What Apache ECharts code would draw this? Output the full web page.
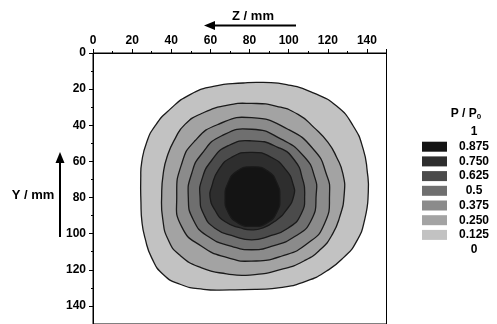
<!DOCTYPE html>
<html>
<head>
<meta charset="utf-8">
<script src="https://cdn.jsdelivr.net/npm/echarts@6/dist/echarts.min.js"></script>
<style>
  html, body { margin: 0; padding: 0; background: #fff; }
  #chart { width: 497px; height: 324px; }
</style>
</head>
<body>
<div id="chart"></div>
<script>
// Contour lines of P/P0, each as a closed loop of [Z mm, Y mm] points
const ring0125 = [[76.8,16.6],[61.5,18.5],[49.6,23.0],[39.3,31.2],[31.7,40.4],[27.4,49.5],[24.9,60.4],[24.4,69.6],[24.5,82.4],[25.0,93.3],[26.6,102.5],[30.0,113.4],[35.9,122.6],[44.5,128.0],[56.4,130.8],[70.0,131.1],[83.6,130.8],[95.6,129.9],[109.2,126.2],[119.4,120.7],[127.9,113.4],[134.7,104.3],[139.0,91.5],[140.7,76.9],[140.2,65.9],[138.1,53.2],[133.0,40.4],[124.5,29.4],[112.6,22.1],[99.0,17.5],[87.0,16.3]];
const ring0250 = [[81.1,27.9],[68.3,29.0],[55.5,33.5],[47.0,39.5],[41.9,47.5],[38.0,57.0],[35.9,66.8],[35.1,78.7],[35.6,91.5],[38.5,103.5],[44.5,112.0],[55.5,118.9],[68.3,122.2],[80.2,122.9],[96.2,119.8],[108.0,115.0],[116.5,108.5],[122.0,101.0],[126.0,91.0],[128.4,78.0],[127.7,66.8],[124.5,57.7],[120.1,49.5],[113.0,41.3],[104.8,34.0],[93.9,29.5]];
const ring0375 = [[81.1,35.8],[64.0,39.5],[52.1,48.6],[45.3,61.4],[42.8,79.6],[45.3,96.1],[55.5,107.0],[69.1,113.4],[81.1,115.2],[96.2,112.5],[109.9,105.2],[118.4,94.2],[120.9,77.8],[119.2,66.8],[113.3,54.1],[99.6,42.2]];
const ring0500 = [[81.1,42.2],[65.8,45.8],[55.5,55.9],[50.4,66.8],[48.7,79.6],[51.3,92.4],[58.9,101.6],[70.9,107.0],[81.1,108.9],[91.1,107.0],[103.1,101.6],[111.6,92.4],[114.1,77.8],[113.3,68.7],[108.2,57.7],[96.2,47.7]];
const ring0625 = [[81.1,48.6],[69.1,51.3],[60.6,59.5],[55.5,70.5],[54.7,79.6],[56.4,88.8],[62.3,97.0],[72.6,101.6],[81.1,103.4],[89.4,101.6],[99.6,97.0],[106.5,88.8],[108.2,77.8],[107.3,70.5],[103.1,59.5],[94.5,52.2]];
const ring0750 = [[81.1,55.0],[70.9,57.7],[64.0,65.0],[60.6,74.2],[59.8,79.6],[62.3,86.9],[67.4,93.3],[76.0,97.0],[81.1,97.9],[86.3,97.0],[92.8,93.3],[98.8,86.9],[102.6,79.0],[102.2,72.5],[98.8,65.0],[91.1,57.7]];
const ring0875 = [[81.5,63.0],[73.5,65.5],[69.0,72.0],[67.5,80.0],[69.0,88.0],[74.0,94.0],[81.5,96.0],[89.0,94.0],[94.0,88.0],[95.5,80.0],[94.0,72.0],[89.5,65.5]];

const rings = [ring0125, ring0250, ring0375, ring0500, ring0625, ring0750, ring0875];

// Grey shade of the band above each contour level (0.125 ... 0.875)
const bandColors = ['#c2c2c2', '#a3a3a3', '#8b8b8b', '#6f6f6f', '#4b4b4b', '#2e2e2e', '#141414'];

// Colour key, top to bottom
const keyLabels = ['1', '0.875', '0.750', '0.625', '0.5', '0.375', '0.250', '0.125', '0'];

// Axis tick labels
const zTicks = [0, 20, 40, 60, 80, 100, 120, 140];
const yTicks = [0, 20, 40, 60, 80, 100, 120, 140];

const FONT = 'Liberation Sans, Arial, Helvetica, sans-serif';

const chart = echarts.init(document.getElementById('chart'), null, { renderer: 'canvas' });

const axisCommon = {
  type: 'value',
  min: 0,
  max: 150,
  interval: 20,
  axisLine: { show: true, lineStyle: { color: '#000', width: 1 } },
  axisTick: { show: true, length: 4, lineStyle: { color: '#000', width: 1 } },
  minorTick: { show: true, splitNumber: 2, length: 2, lineStyle: { color: '#000', width: 1 } },
  splitLine: { show: false },
  axisLabel: {
    color: '#000', fontSize: 12, fontWeight: 'bold', fontFamily: FONT,
    showMaxLabel: false
  }
};

// Colour key drawn from the label and band-colour lists
const keyGraphics = [];
const keyTop = 132, keyStep = 14.7;
keyLabels.forEach((lab, k) => {
  keyGraphics.push({
    type: 'text', x: 474, y: keyTop + k * keyStep,
    style: { text: lab, font: 'bold 12px ' + FONT, fill: '#000', textAlign: 'center', textVerticalAlign: 'middle' }
  });
});
for (let i = 0; i < bandColors.length; i++) {
  const col = bandColors[bandColors.length - 1 - i];
  keyGraphics.push({
    type: 'rect',
    shape: { x: 422, y: keyTop + (i + 1) * keyStep - 5, width: 25, height: 10 },
    style: { fill: col }
  });
}

const option = {
  animation: false,
  backgroundColor: '#fff',
  grid: {
    left: 93, top: 53, width: 293.5, height: 273.8,
    show: true, borderColor: '#000', borderWidth: 1, backgroundColor: 'transparent'
  },
  xAxis: Object.assign({}, axisCommon, {
    position: 'top',
    axisLabel: Object.assign({}, axisCommon.axisLabel, { margin: 6 })
  }),
  yAxis: Object.assign({}, axisCommon, {
    inverse: true,
    axisLabel: Object.assign({}, axisCommon.axisLabel, { margin: 7 })
  }),
  series: [{
    type: 'custom',
    coordinateSystem: 'cartesian2d',
    silent: true,
    data: rings.map(r => r[0]),
    renderItem: function (params, api) {
      const pts = rings[params.dataIndex].map(p => api.coord(p));
      return {
        type: 'polygon',
        shape: { points: pts, smooth: 0.55 },
        style: { fill: bandColors[params.dataIndex], stroke: '#1a1a1a', lineWidth: 1.3 }
      };
    }
  }],
  graphic: [
    { type: 'text', x: 253, y: 16,
      style: { text: 'Z / mm', font: 'bold 13px ' + FONT, fill: '#000', textAlign: 'center', textVerticalAlign: 'middle' } },
    { type: 'line', shape: { x1: 296, y1: 25.5, x2: 212, y2: 25.5 }, style: { stroke: '#000', lineWidth: 2 } },
    { type: 'polygon', shape: { points: [[204, 25.5], [215, 21], [215, 30]] }, style: { fill: '#000' } },
    { type: 'text', x: 33, y: 195,
      style: { text: 'Y / mm', font: 'bold 13px ' + FONT, fill: '#000', textAlign: 'center', textVerticalAlign: 'middle' } },
    { type: 'line', shape: { x1: 60, y1: 237, x2: 60, y2: 160 }, style: { stroke: '#000', lineWidth: 2 } },
    { type: 'polygon', shape: { points: [[60, 152], [55.5, 163], [64.5, 163]] }, style: { fill: '#000' } },
    { type: 'text', x: 466, y: 114,
      style: {
        text: '{a|P / P}{b|0}', textAlign: 'center', textVerticalAlign: 'middle',
        rich: {
          a: { font: 'bold 12px ' + FONT, fill: '#000' },
          b: { font: 'bold 8px ' + FONT, fill: '#000', padding: [6, 0, 0, 0] }
        }
      } }
  ].concat(keyGraphics)
};

chart.setOption(option);
</script>
</body>
</html>
